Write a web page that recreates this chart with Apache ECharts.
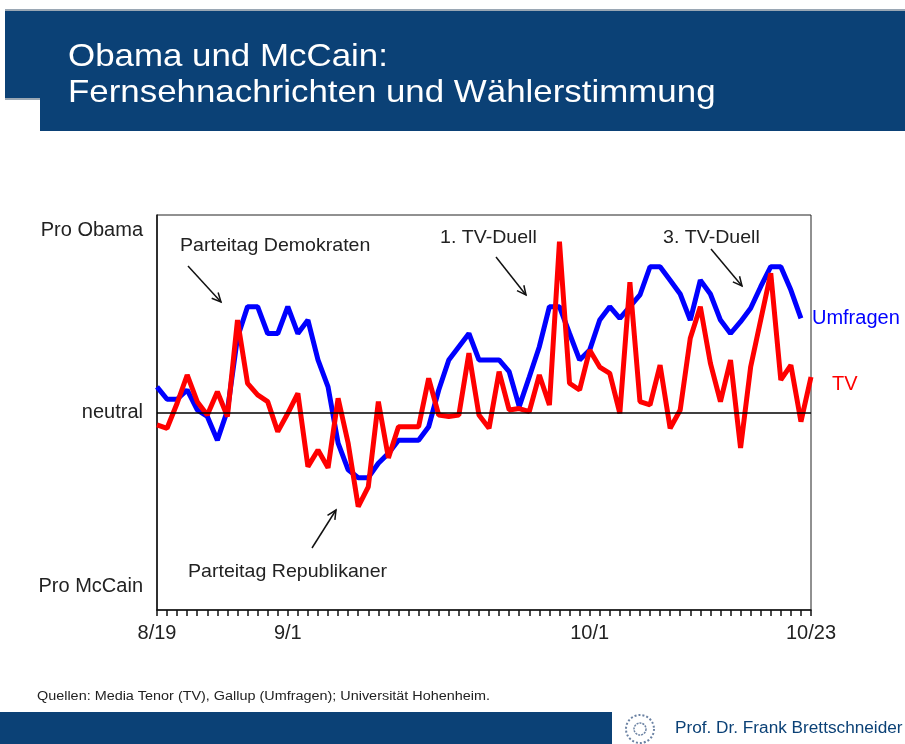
<!DOCTYPE html>
<html>
<head>
<meta charset="utf-8">
<script src="https://cdn.jsdelivr.net/npm/echarts@6/dist/echarts.min.js"></script>
<style>
  html, body { margin: 0; padding: 0; background: #fff; }
  #chart { width: 905px; height: 744px; }
</style>
</head>
<body>
<div id="chart"></div>
<script>
// days from 8/19 to 10/23 (2008)
const startDay = new Date(2008, 7, 19);
const dayCount = 66;
const days = [];
for (let i = 0; i < dayCount; i++) {
  const d = new Date(startDay.getTime() + i * 86400000);
  days.push((d.getMonth() + 1) + '/' + d.getDate());
}
const dayLabels = ['8/19', '9/1', '10/1', '10/23'];

// Gallup polls (Umfragen), ends one day earlier than TV
const umfragen = [
  13, 6.7, 6.7, 11.4, 1.3, -2, -14, 1, 38, 53.6, 53.6, 40, 40, 53.6, 40, 46.8,
  26.6, 13, -15.5, -29, -33, -33, -25.7, -20.7, -14, -14, -14, -7.2, 11.4, 26.6,
  33.3, 40, 26.6, 26.6, 26.6, 20.7, 3, 18, 33.3, 53.6, 53.6, 40, 26.6, 31.6,
  46.8, 53.6, 47.7, 53.6, 59.5, 73.8, 73.8, 67, 60, 46.8, 67, 60, 46.8, 40, 46,
  52.8, 63.7, 73.8, 73.8, 62, 47.7,
];

// Media Tenor TV tone
const tv = [
  -6.3, -8, 4.7, 19, 5.5, -1.3, 10.5, -2, 46.8, 14.8, 8.9, 5.5, -9.7, -0.4, 9.7,
  -27.4, -19, -28, 7.2, -15.6, -47.7, -37.6, 5.5, -23, -7.2, -7.2, -7.2, 17.3,
  -1.3, -2, -1.3, 30, -1.3, -8, 20.7, 1.3, 2, 0.4, 19, 3.8, 86.5, 14.8, 11.4,
  31.6, 23, 19.8, -0.4, 66, 5.5, 3.8, 24, -8, 1.3, 37.6, 53.6, 25, 5.5, 26.6,
  -18, 23, 46.8, 70.5, 16.5, 24, -4.6, 18,
];

const yTickLabels = { '92': 'Pro Obama', '0': 'neutral', '-88': 'Pro McCain' };

const navy = '#0b4176';
const font = 'Liberation Sans, Arial, sans-serif';

// open arrow for the annotations
function arrow(x1, y1, x2, y2) {
  const ang = Math.atan2(y2 - y1, x2 - x1);
  const len = 10;
  const spread = 0.45;
  const style = { stroke: '#111', lineWidth: 1.5 };
  return [
    { type: 'line', shape: { x1, y1, x2, y2 }, style },
    {
      type: 'polyline',
      shape: {
        points: [
          [x2 - len * Math.cos(ang - spread), y2 - len * Math.sin(ang - spread)],
          [x2, y2],
          [x2 - len * Math.cos(ang + spread), y2 - len * Math.sin(ang + spread)],
        ],
      },
      style: { stroke: '#111', lineWidth: 1.5, fill: null },
    },
  ];
}

function note(text, x, y) {
  return {
    type: 'text',
    x,
    y,
    scaleX: 1.03,
    style: { text, font: '19px ' + font, fill: '#222', textVerticalAlign: 'middle' },
  };
}

const chart = echarts.init(document.getElementById('chart'), null, { renderer: 'canvas' });

chart.setOption({
  animation: false,
  backgroundColor: '#fff',
  grid: {
    left: 157,
    right: 94,
    top: 215,
    bottom: 134,
    show: true,
    borderColor: '#222',
    borderWidth: 1,
  },
  xAxis: {
    type: 'category',
    data: days,
    boundaryGap: false,
    axisLine: { onZero: false, lineStyle: { color: '#111', width: 1.5 } },
    axisTick: {
      show: true,
      interval: 0,
      length: 6,
      lineStyle: { color: '#111', width: 1.5 },
    },
    axisLabel: {
      interval: (idx, val) => dayLabels.includes(val),
      margin: 13,
      color: '#222',
      fontSize: 20,
      fontFamily: font,
    },
    splitLine: { show: false },
  },
  yAxis: {
    type: 'value',
    min: -100,
    max: 100,
    interval: 4,
    axisLine: { show: true, lineStyle: { color: '#111', width: 1.5 } },
    axisTick: { show: false },
    splitLine: { show: false },
    axisLabel: {
      margin: 14,
      color: '#222',
      fontSize: 20,
      fontFamily: font,
      formatter: (v) => yTickLabels[String(v)] || '',
    },
  },
  series: [
    {
      name: 'Umfragen',
      type: 'line',
      data: umfragen,
      symbol: 'none',
      lineStyle: { color: '#0000ff', width: 5 },
      itemStyle: { color: '#0000ff' },
      endLabel: {
        show: true,
        formatter: '{a}',
        distance: 11,
        color: '#0000ff',
        fontSize: 20,
        fontFamily: font,
      },
      markLine: {
        silent: true,
        symbol: 'none',
        label: { show: false },
        lineStyle: { color: '#000', width: 1.5, type: 'solid' },
        data: [{ yAxis: 0 }],
      },
    },
    {
      name: 'TV',
      type: 'line',
      data: tv,
      symbol: 'none',
      lineStyle: { color: '#ff0000', width: 5 },
      itemStyle: { color: '#ff0000' },
      endLabel: {
        show: true,
        formatter: '{a}',
        distance: 21,
        offset: [0, 8],
        color: '#ff0000',
        fontSize: 20,
        fontFamily: font,
      },
    },
  ],
  graphic: [
    // title banner
    { type: 'rect', shape: { x: 5, y: 9, width: 900, height: 2 }, style: { fill: '#9aa7b4' } },
    { type: 'rect', shape: { x: 5, y: 11, width: 900, height: 87 }, style: { fill: navy } },
    { type: 'rect', shape: { x: 40, y: 98, width: 865, height: 33 }, style: { fill: navy } },
    { type: 'rect', shape: { x: 5, y: 98, width: 35, height: 2 }, style: { fill: '#9aa7b4' } },
    {
      type: 'text',
      x: 68,
      y: 39,
      scaleX: 1.09,
      style: {
        text: 'Obama und McCain:\nFernsehnachrichten und Wählerstimmung',
        font: '32px ' + font,
        fill: '#fff',
        lineHeight: 36,
      },
    },
    // annotations
    note('Parteitag Demokraten', 180, 246),
    ...arrow(188, 266, 221, 302),
    note('1. TV-Duell', 440, 238),
    ...arrow(496, 257, 526, 295),
    note('3. TV-Duell', 663, 238),
    ...arrow(711, 249, 742, 286),
    note('Parteitag Republikaner', 188, 572),
    ...arrow(312, 548, 336, 510),
    // footer
    {
      type: 'text',
      x: 37,
      y: 697,
      scaleX: 1.2,
      style: {
        text: 'Quellen: Media Tenor (TV), Gallup (Umfragen); Universität Hohenheim.',
        font: '12px ' + font,
        fill: '#222',
        textVerticalAlign: 'middle',
      },
    },
    { type: 'rect', shape: { x: 0, y: 712, width: 612, height: 32 }, style: { fill: navy } },
    {
      type: 'circle',
      shape: { cx: 640, cy: 729, r: 14 },
      style: { fill: '#fff', stroke: '#6b82a3', lineWidth: 2, lineDash: [2, 2] },
    },
    {
      type: 'circle',
      shape: { cx: 640, cy: 729, r: 6 },
      style: { fill: '#fff', stroke: '#6b82a3', lineWidth: 1.5, lineDash: [2, 1] },
    },
    {
      type: 'text',
      x: 675,
      y: 729,
      scaleX: 1.075,
      style: {
        text: 'Prof. Dr. Frank Brettschneider',
        font: '16px ' + font,
        fill: navy,
        textVerticalAlign: 'middle',
      },
    },
  ],
});
</script>
</body>
</html>
